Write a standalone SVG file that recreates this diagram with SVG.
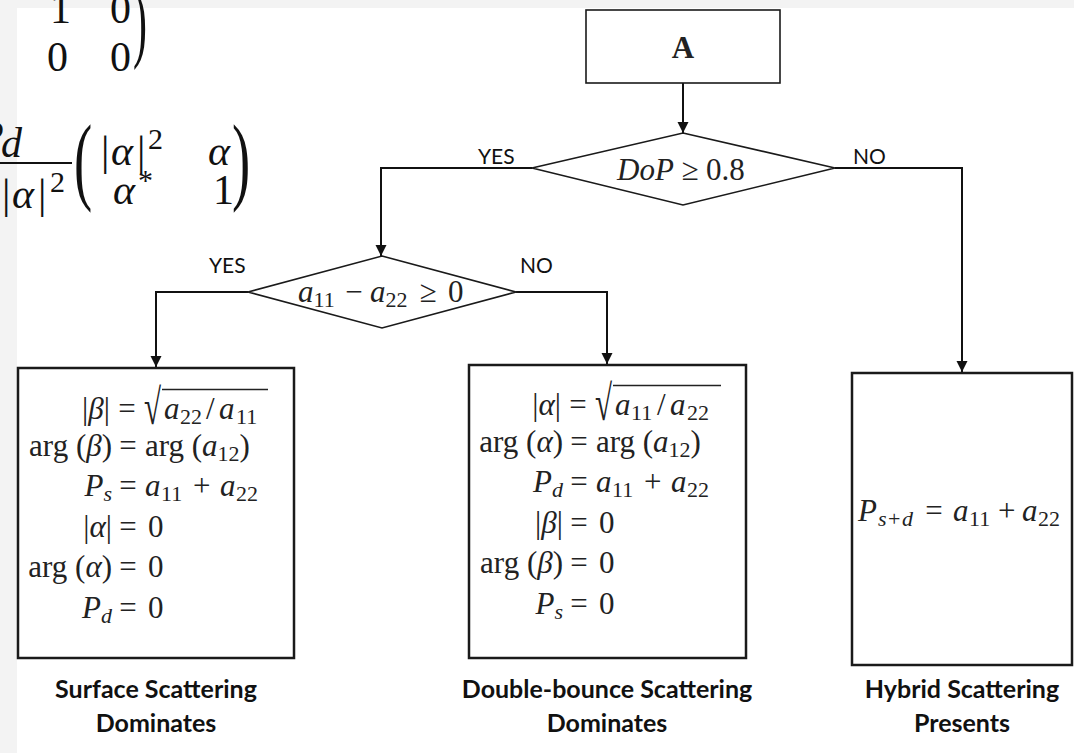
<svg xmlns="http://www.w3.org/2000/svg" width="1074" height="753" viewBox="0 0 1074 753">
<defs>
<marker id="ah" viewBox="0 0 10 10" refX="10" refY="5" markerWidth="11" markerHeight="12" markerUnits="userSpaceOnUse" orient="auto">
<path d="M0,0 L10,5 L0,10 z" fill="#111"/>
</marker>
<style>
.m{font-family:"Liberation Serif","DejaVu Serif",serif;font-size:31px;fill:#222}
.i{font-style:italic}
.u{font-style:normal}
.s{font-size:22px;font-style:normal}
.si{font-size:22px;font-style:italic}
.f{font-family:"Liberation Serif","DejaVu Serif",serif;font-size:42px;fill:#111}
.sup{font-size:30px;font-style:normal}
.lbl{font-family:Lato,"Open Sans","Liberation Sans",sans-serif;font-size:21px;fill:#111}
.cap{font-family:Lato,"Open Sans","Liberation Sans",sans-serif;font-size:25px;font-weight:700;fill:#111;text-anchor:middle}
.box{fill:#fff;stroke:#1a1a1a;stroke-width:2.5}
.thin{fill:#fff;stroke:#1a1a1a;stroke-width:1.6}
.con{fill:none;stroke:#111;stroke-width:2}
.vin{stroke:#222;stroke-width:1.5}
</style>
</defs>
<rect x="0" y="0" width="1074" height="753" fill="#f3f3f3"/>
<rect x="17" y="8" width="1057" height="745" fill="#fff"/>

<g id="formula-topleft">
<text class="f" x="50" y="23">1</text>
<text class="f" x="110" y="23">0</text>
<text class="f" x="47" y="71">0</text>
<text class="f" x="110" y="71">0</text>
<text class="f" transform="translate(133,51) scale(1,2.1)">)</text>
<text class="f i" x="-22" y="150">P</text>
<text class="f i" x="1" y="157" font-size="30">d</text>
<rect x="0" y="162" width="72" height="2" fill="#111"/>
<text class="f" y="208"><tspan x="2">|</tspan><tspan class="i" x="12">α</tspan><tspan x="38">|</tspan><tspan class="sup" x="50" dy="-16">2</tspan></text>
<text class="f" transform="translate(74,192) scale(1.3,2.3)">(</text>
<text class="f" y="165"><tspan x="101">|</tspan><tspan class="i" x="111">α</tspan><tspan x="137">|</tspan><tspan class="sup" x="148" dy="-16">2</tspan></text>
<text class="f i" x="208" y="165">α</text>
<text class="f" y="204"><tspan class="i" x="113">α</tspan><tspan class="sup" x="138" dy="-14">*</tspan></text>
<text class="f" x="213" y="204">1</text>
<text class="f" transform="translate(232,192) scale(1.3,2.3)">)</text>
</g>

<g id="connectors">
<line class="con" x1="683" y1="83" x2="683" y2="133" marker-end="url(#ah)"/>
<polyline class="con" points="532,168 381,168 381,256" marker-end="url(#ah)"/>
<polyline class="con" points="835,168 962,168 962,372" marker-end="url(#ah)"/>
<polyline class="con" points="248,292 156,292 156,367" marker-end="url(#ah)"/>
<polyline class="con" points="516,292 607,292 607,364" marker-end="url(#ah)"/>
<text class="lbl" x="478" y="164">YES</text>
<text class="lbl" x="853" y="164">NO</text>
<text class="lbl" x="209" y="273">YES</text>
<text class="lbl" x="520" y="273">NO</text>
</g>

<g id="nodeA">
<rect class="thin" x="586" y="10" width="194" height="73"/>
<text class="m" x="683" y="58" font-size="23" font-weight="700" text-anchor="middle" fill="#111">A</text>
</g>

<g id="decision1">
<polygon class="thin" points="683,133 835,168 683,205 532,168"/>
<text class="m i" x="617" y="180">DoP</text>
<text class="m" x="690" y="180" text-anchor="middle">≥</text>
<text class="m" x="706" y="180">0.8</text>
</g>

<g id="decision2">
<polygon class="thin" points="382,256 516,292 382,328 248,292"/>
<text class="m i" x="298" y="302">a<tspan class="s" dy="5">11</tspan></text>
<text class="m" x="354" y="302" text-anchor="middle">−</text>
<text class="m i" x="370" y="302">a<tspan class="s" dy="5">22</tspan></text>
<text class="m" x="428" y="302" text-anchor="middle">≥</text>
<text class="m" x="448" y="302">0</text>
</g>

<g id="surface">
<rect class="box" x="18" y="368" width="276" height="290"/>
<text class="m" x="110" y="419" text-anchor="end">|<tspan class="i">β</tspan>|</text>
<text class="m" x="127" y="419" text-anchor="middle">=</text>
<text class="m" transform="translate(144,424) scale(1,1.6)" font-size="36">√</text>
<line class="vin" x1="162" y1="389.5" x2="268" y2="389.5"/>
<text class="m i" y="419"><tspan x="164">a</tspan><tspan class="s" x="180" dy="5">22</tspan><tspan class="u" x="206" dy="-5">/</tspan><tspan x="219">a</tspan><tspan class="s" x="236" dy="5">11</tspan></text>
<text class="m" x="112" y="456" text-anchor="end">arg (<tspan class="i">β</tspan>)</text>
<text class="m" x="128" y="456" text-anchor="middle">=</text>
<text class="m" x="145" y="456">arg (<tspan class="i">a</tspan><tspan class="s" dy="5">12</tspan><tspan dy="-5">)</tspan></text>
<text class="m" x="112" y="496" text-anchor="end"><tspan class="i">P</tspan><tspan class="si" dy="5">s</tspan></text>
<text class="m" x="128" y="496" text-anchor="middle">=</text>
<text class="m i" y="496"><tspan x="145">a</tspan><tspan class="s" x="161" dy="5">11</tspan><tspan class="u" x="193" dy="-5">+</tspan><tspan x="220">a</tspan><tspan class="s" x="236" dy="5">22</tspan></text>
<text class="m" x="112" y="537" text-anchor="end">|<tspan class="i">α</tspan>|</text>
<text class="m" x="128" y="537" text-anchor="middle">=</text>
<text class="m" x="148" y="537">0</text>
<text class="m" x="112" y="577" text-anchor="end">arg (<tspan class="i">α</tspan>)</text>
<text class="m" x="128" y="577" text-anchor="middle">=</text>
<text class="m" x="148" y="577">0</text>
<text class="m" x="112" y="618" text-anchor="end"><tspan class="i">P</tspan><tspan class="si" dy="5">d</tspan></text>
<text class="m" x="128" y="618" text-anchor="middle">=</text>
<text class="m" x="148" y="618">0</text>
<text class="cap" x="156" y="698">Surface Scattering</text>
<text class="cap" x="156" y="732">Dominates</text>
</g>

<g id="double">
<rect class="box" x="469" y="365" width="277" height="293"/>
<text class="m" x="561" y="415" text-anchor="end">|<tspan class="i">α</tspan>|</text>
<text class="m" x="578" y="415" text-anchor="middle">=</text>
<text class="m" transform="translate(595,420) scale(1,1.6)" font-size="36">√</text>
<line class="vin" x1="613" y1="385.5" x2="721" y2="385.5"/>
<text class="m i" y="415"><tspan x="615">a</tspan><tspan class="s" x="631" dy="5">11</tspan><tspan class="u" x="657" dy="-5">/</tspan><tspan x="670">a</tspan><tspan class="s" x="687" dy="5">22</tspan></text>
<text class="m" x="563" y="452" text-anchor="end">arg (<tspan class="i">α</tspan>)</text>
<text class="m" x="579" y="452" text-anchor="middle">=</text>
<text class="m" x="596" y="452">arg (<tspan class="i">a</tspan><tspan class="s" dy="5">12</tspan><tspan dy="-5">)</tspan></text>
<text class="m" x="563" y="492" text-anchor="end"><tspan class="i">P</tspan><tspan class="si" dy="5">d</tspan></text>
<text class="m" x="579" y="492" text-anchor="middle">=</text>
<text class="m i" y="492"><tspan x="596">a</tspan><tspan class="s" x="612" dy="5">11</tspan><tspan class="u" x="644" dy="-5">+</tspan><tspan x="671">a</tspan><tspan class="s" x="687" dy="5">22</tspan></text>
<text class="m" x="563" y="533" text-anchor="end">|<tspan class="i">β</tspan>|</text>
<text class="m" x="579" y="533" text-anchor="middle">=</text>
<text class="m" x="599" y="533">0</text>
<text class="m" x="563" y="573" text-anchor="end">arg (<tspan class="i">β</tspan>)</text>
<text class="m" x="579" y="573" text-anchor="middle">=</text>
<text class="m" x="599" y="573">0</text>
<text class="m" x="563" y="614" text-anchor="end"><tspan class="i">P</tspan><tspan class="si" dy="5">s</tspan></text>
<text class="m" x="579" y="614" text-anchor="middle">=</text>
<text class="m" x="599" y="614">0</text>
<text class="cap" x="607" y="698">Double-bounce Scattering</text>
<text class="cap" x="607" y="732">Dominates</text>
</g>

<g id="hybrid">
<rect class="box" x="852" y="373" width="220" height="292"/>
<text class="m" y="521"><tspan class="i" x="858">P</tspan><tspan class="si" x="878" dy="5">s</tspan><tspan class="s" x="888">+</tspan><tspan class="si" x="902">d</tspan></text>
<text class="m" x="934" y="521" text-anchor="middle">=</text>
<text class="m i" y="521"><tspan x="953">a</tspan><tspan class="s" x="969" dy="5">11</tspan><tspan class="u" x="998" dy="-5">+</tspan><tspan x="1022">a</tspan><tspan class="s" x="1038" dy="5">22</tspan></text>
<text class="cap" x="962" y="698">Hybrid Scattering</text>
<text class="cap" x="962" y="732">Presents</text>
</g>
</svg>
